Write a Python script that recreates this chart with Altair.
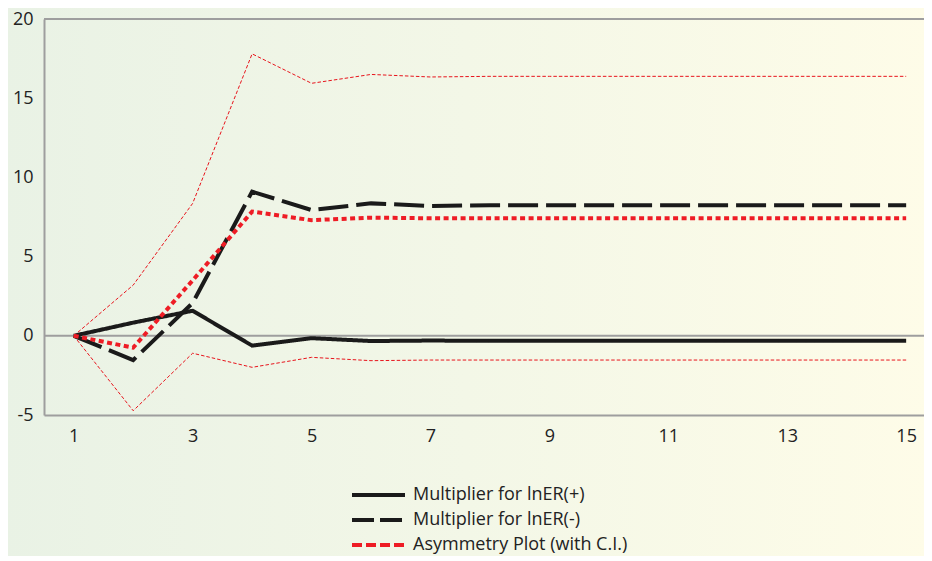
import altair as alt
import pandas as pd

periods = list(range(1, 16))
mult_pos = [0, 0.83, 1.58, -0.62, -0.15, -0.33, -0.30, -0.32, -0.32, -0.32, -0.32, -0.32, -0.32, -0.32, -0.32]
mult_neg = [0, -1.53, 2.07, 9.10, 7.94, 8.36, 8.20, 8.24, 8.24, 8.24, 8.24, 8.24, 8.24, 8.24, 8.24]
asym = [0, -0.75, 3.50, 7.84, 7.30, 7.46, 7.42, 7.42, 7.42, 7.42, 7.42, 7.42, 7.42, 7.42, 7.42]
ci_upper = [0, 3.20, 8.36, 17.80, 15.94, 16.50, 16.34, 16.38, 16.38, 16.38, 16.38, 16.38, 16.38, 16.38, 16.38]
ci_lower = [0, -4.73, -1.10, -1.99, -1.36, -1.57, -1.53, -1.53, -1.53, -1.53, -1.53, -1.53, -1.53, -1.53, -1.53]

names = ["Multiplier for lnER(+)", "Multiplier for lnER(-)", "Asymmetry Plot (with C.I.)"]
colors = ["#1A1A1A", "#1A1A1A", "#EE1C25"]
dashes = [[1, 0], [30, 8], [5, 3.5]]
legend_dashes = [[1, 0], [22, 6], [10, 4]]

W, H = 880, 396
FONT = "Open Sans"
GRAY = "#9E9E9E"
TXT = "#222222"

xscale = alt.Scale(domain=[0.5, 15.3], nice=False, zero=False)
yscale = alt.Scale(domain=[-5, 20], nice=False, zero=False)

xaxis = alt.Axis(values=[1, 3, 5, 7, 9, 11, 13, 15], grid=False, ticks=False, zindex=1,
                 domainColor=GRAY, domainWidth=2, labelFontSize=18, labelFont=FONT,
                 labelColor=TXT, labelPadding=12, title=None, labelFlush=False,
                 labelExpr="'' + datum.value")
yaxis = alt.Axis(values=[-5, 0, 5, 10, 15, 20], grid=False, ticks=False, zindex=1,
                 domainColor=GRAY, domainWidth=2, labelFontSize=18, labelFont=FONT,
                 labelColor=TXT, labelPadding=11, title=None, labelFlush=False,
                 labelExpr="'' + datum.value")

bg = alt.Chart(pd.DataFrame({"a": [0]})).mark_rect(
    fill=alt.LinearGradient(
        gradient="linear",
        stops=[alt.GradientStop(color="#E9F2E5", offset=0),
               alt.GradientStop(color="#F3F7E7", offset=0.5),
               alt.GradientStop(color="#FEFCE8", offset=1)],
        x1=0, x2=1, y1=0, y2=0),
    clip=False,
).encode(x=alt.value(-44), x2=alt.value(W + 8), y=alt.value(-19), y2=alt.value(H + 150))

refs = alt.Chart(pd.DataFrame({"y": [0, 20]})).mark_rule(
    color=GRAY, strokeWidth=2, clip=False
).encode(y=alt.Y("y:Q", scale=yscale, axis=yaxis), x=alt.value(0), x2=alt.value(W + 8))

layers = [bg, refs]

for nm, vals in [("upper", ci_upper), ("lower", ci_lower)]:
    df = pd.DataFrame({"period": periods, "value": vals})
    layers.append(
        alt.Chart(df).mark_line(color="#E8141C", strokeWidth=1, strokeDash=[3.5, 2]).encode(
            x=alt.X("period:Q", scale=xscale, axis=xaxis),
            y=alt.Y("value:Q", scale=yscale),
        )
    )

for nm, vals, c, d in zip(names, [mult_pos, mult_neg, asym], colors, dashes):
    df = pd.DataFrame({"period": periods, "value": vals})
    layers.append(
        alt.Chart(df).mark_line(color=c, strokeWidth=4, strokeDash=d).encode(
            x=alt.X("period:Q", scale=xscale),
            y=alt.Y("value:Q", scale=yscale),
        )
    )

# legend (drawn below the plot area)
for i, (nm, c, d) in enumerate(zip(names, colors, legend_dashes)):
    ly = 476 + 25 * i
    layers.append(
        alt.Chart(pd.DataFrame({"label": [nm]})).mark_rule(color=c, strokeWidth=4, strokeDash=d, clip=False)
        .encode(x=alt.value(308), x2=alt.value(361), y=alt.value(ly))
    )
    layers.append(
        alt.Chart(pd.DataFrame({"label": [nm]})).mark_text(
            align="left", baseline="middle", font=FONT, fontSize=18, color=TXT, clip=False
        ).encode(x=alt.value(369), y=alt.value(ly), text="label:N")
    )

chart = alt.layer(*layers).properties(
    width=W, height=H,
    autosize=alt.AutoSizeParams(type="none"),
    padding={"left": 36, "top": 11, "right": 0, "bottom": 141},
).configure_view(stroke=None).configure(background="#F2F7E8")

chart.save("out.html", embed_options={"renderer": "svg", "actions": False})
